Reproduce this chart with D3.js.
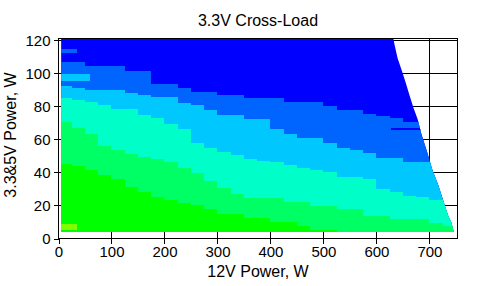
<!DOCTYPE html>
<html>
<head>
<meta charset="utf-8">
<script src="https://cdn.jsdelivr.net/npm/d3@7"></script>
<style>
body { margin: 0; background: #fff; }
text { font-family: "Liberation Sans", Arial, sans-serif; fill: #000; }
</style>
</head>
<body>
<svg width="487" height="286"></svg>
<script>
// 12V load samples (W), each boundary value holds until the next sample
var load12 = [5, 25, 50, 75, 100, 125, 150, 175, 200, 225, 250, 275, 300, 325, 350, 375,
    400, 425, 450, 475, 500, 525, 550, 575, 600, 625, 650, 675, 700, 725, 750];

// 3.3&5V load (W) where the colour changes, top band to bottom band
var edgeBlue = [107, 107, 104.3, 104.3, 104.3, 101.2, 101.2, 93.5, 93.5, 91.1, 88.5, 88.5, 87.1, 87.1, 85.1, 85.1,
    85.1, 82.7, 82.7, 82.7, 80.2, 77.8, 77.8, 75.6, 74, 73, 70.6, 70.6, 63.5, 62, 60];
var edgeLightBlue = [92.2, 91, 89.7, 89.7, 89.7, 88.3, 86.7, 85.7, 85.7, 82, 80.6, 77.6, 74.6, 74.6, 72.6, 72.6,
    66, 63.5, 60.9, 60.9, 57.5, 54.8, 53.4, 51.9, 48.8, 48.8, 46.2, 46.2, 46.2, 45, 45];
var edgeAqua = [85.1, 84, 82.7, 80.7, 78.1, 78.1, 74.6, 73, 69.2, 66, 58, 55, 52.4, 50.4, 48, 47,
    46.4, 44.4, 42.4, 41.5, 40.1, 37.1, 37.1, 36.3, 30, 28.2, 26, 25, 23, 22.2, 22];
var edgeGreen = [70.2, 67, 63, 56, 53.4, 51.3, 49.4, 48, 46, 42.5, 39.5, 34.7, 30.4, 27.1, 24.7, 24.7,
    24.7, 22, 22, 19.5, 19.5, 17.7, 17.7, 13.7, 13.7, 11.7, 11.7, 11.7, 9.6, 7.4, 7.4];
var edgeBrightGreen = [45, 43.8, 41.3, 38.7, 35.9, 31, 28.2, 25, 23.2, 21.5, 20.2, 17.7, 14.7, 14.7, 12.7, 12.7,
    9.7, 9.7, 7.4, 5, 5, 4, 4, 4, 4, 4, 4, 4, 4, 4, 4];

// stray cells: 12V from-to, 3.3&5V from-to, band index (0 = dark blue ... 6 = yellow-green)
var strayFrom12 = [5, 5, 628, 5];
var strayTo12 = [35, 60, 685, 35];
var strayFrom33 = [112, 95, 65.5, 5];
var strayTo33 = [114.5, 99.5, 67, 8.6];
var strayBand = [1, 2, 0, 6];

// maximum 12V load reached for a given 3.3&5V load
var limitLoad = [4, 10, 14, 22, 32, 42, 52, 63, 72, 79, 86, 94.5, 101.5, 109, 117.5, 121];
var limitMax = [746, 741, 735, 727, 717, 705, 696, 685, 678, 670, 663, 655, 648, 640, 634, 632];

var minLoad12 = 5, minLoad33 = 4;

var xTicks = [0, 100, 200, 300, 400, 500, 600, 700];
var yTicks = [0, 20, 40, 60, 80, 100, 120];

var bandEdges = [edgeBlue, edgeLightBlue, edgeAqua, edgeGreen, edgeBrightGreen];
var colors = ["#0000ff", "#0064ff", "#00c8ff", "#00ffc8", "#00ff64", "#00ff00", "#80ff00"];

var svg = d3.select("svg");

var x = d3.scaleLinear().domain([0, 753]).range([58.5, 457.5]);
var y = d3.scaleLinear().domain([0, 121]).range([238.5, 38.5]);

// grid
var grid = svg.append("g").attr("class", "grid");
grid.selectAll("line.v")
    .data(xTicks.slice(1)).enter().append("line")
    .attr("x1", function (d) { return x(d); })
    .attr("x2", function (d) { return x(d); })
    .attr("y1", y(121))
    .attr("y2", y(0));
grid.selectAll("line.h")
    .data(yTicks.slice(1)).enter().append("line")
    .attr("x1", x(0))
    .attr("x2", x(753))
    .attr("y1", function (d) { return y(d); })
    .attr("y2", function (d) { return y(d); });
grid.selectAll("line")
    .attr("stroke", "#000")
    .attr("shape-rendering", "crispEdges");

// clip to the measured region
var limitPts = [[minLoad12, minLoad33]];
limitLoad.forEach(function (l, i) { limitPts.push([limitMax[i], l]); });
limitPts.push([minLoad12, 121]);

svg.append("clipPath")
    .attr("id", "region")
    .append("path")
    .attr("d", d3.line()
        .x(function (d) { return x(d[0]); })
        .y(function (d) { return y(d[1]); })(limitPts) + "Z");

var map = svg.append("g")
    .attr("clip-path", "url(#region)")
    .attr("shape-rendering", "crispEdges");

map.append("rect")
    .attr("x", x(minLoad12))
    .attr("y", y(121))
    .attr("width", x(753) - x(minLoad12))
    .attr("height", y(minLoad33) - y(121))
    .attr("fill", colors[0]);

var area = d3.area()
    .curve(d3.curveStepAfter)
    .x(function (d, i) { return x(load12[i]); })
    .y0(y(minLoad33))
    .y1(function (d) { return y(d); });

bandEdges.forEach(function (edge, k) {
    map.append("path")
        .attr("d", area(edge))
        .attr("fill", colors[k + 1]);
});

map.selectAll("rect.stray")
    .data(strayBand).enter().append("rect")
    .attr("class", "stray")
    .attr("x", function (d, i) { return x(strayFrom12[i]); })
    .attr("y", function (d, i) { return y(strayTo33[i]); })
    .attr("width", function (d, i) { return x(strayTo12[i]) - x(strayFrom12[i]); })
    .attr("height", function (d, i) { return y(strayFrom33[i]) - y(strayTo33[i]); })
    .attr("fill", function (d) { return colors[d]; });

// frame
svg.append("rect")
    .attr("x", x(0))
    .attr("y", y(121))
    .attr("width", x(753) - x(0))
    .attr("height", y(0) - y(121))
    .attr("fill", "none")
    .attr("stroke", "#000")
    .attr("shape-rendering", "crispEdges");

// axes
var xAxis = svg.append("g")
    .attr("transform", "translate(0," + y(0) + ")")
    .call(d3.axisBottom(x).tickValues(xTicks).tickSize(5).tickSizeOuter(0).tickPadding(3));
var yAxis = svg.append("g")
    .attr("transform", "translate(" + x(0) + ",0)")
    .call(d3.axisLeft(y).tickValues(yTicks).tickSize(5).tickSizeOuter(0).tickPadding(3));

[xAxis, yAxis].forEach(function (a) {
    a.select(".domain").remove();
    a.selectAll("line").attr("stroke", "#000").attr("shape-rendering", "crispEdges");
    a.selectAll("text")
        .style("font-family", "'Liberation Sans', Arial, sans-serif")
        .style("font-size", "15px")
        .attr("fill", "#000");
});
yAxis.selectAll("text").attr("dy", "0.35em");

// titles
svg.append("text")
    .attr("x", 258)
    .attr("y", 25.5)
    .attr("text-anchor", "middle")
    .style("font-size", "16px")
    .text("3.3V Cross-Load");

svg.append("text")
    .attr("x", 258)
    .attr("y", 276.5)
    .attr("text-anchor", "middle")
    .style("font-size", "16px")
    .text("12V Power, W");

svg.append("text")
    .attr("transform", "translate(16,135) rotate(-90)")
    .attr("text-anchor", "middle")
    .style("font-size", "16px")
    .text("3.3&5V Power, W");
</script>
</body>
</html>
